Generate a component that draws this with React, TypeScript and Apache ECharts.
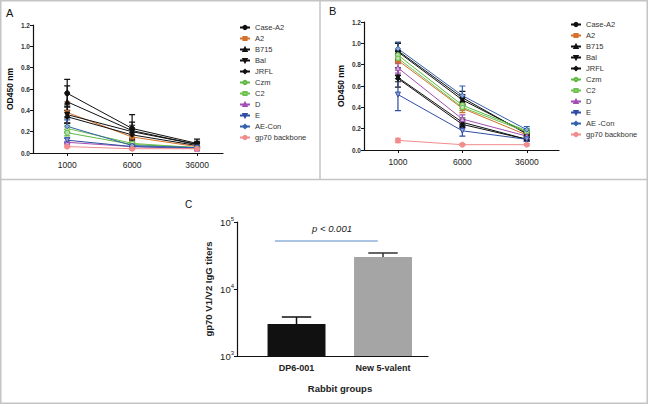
import React, { useEffect, useRef } from "react";
import * as echarts from "echarts";

// ---------- data ----------
const dilutions = ["1000", "6000", "36000"];
const namesA = ["Case-A2", "A2", "B715", "Bal", "JRFL", "Czm", "C2", "D", "E", "AE-Con", "gp70 backbone"];
const namesB = ["Case-A2", "A2", "B715", "Bal", "JRFL", "Czm", "C2", "D", "E", "AE -Con", "gp70 backbone"];

// Panel A: OD450 per series at 1000 / 6000 / 36000
const panelAValues = [
  [0.56, 0.23, 0.09], // Case-A2
  [0.38, 0.15, 0.06], // A2
  [0.48, 0.21, 0.08], // B715
  [0.36, 0.2, 0.08], // Bal
  [0.34, 0.17, 0.07], // JRFL
  [0.19, 0.08, 0.05], // Czm
  [0.23, 0.09, 0.05], // C2
  [0.1, 0.06, 0.04], // D
  [0.12, 0.06, 0.05], // E
  [0.25, 0.07, 0.05], // AE-Con
  [0.06, 0.04, 0.04], // gp70 backbone
];
const panelAErrors = [
  [0.13, 0.13, 0.04],
  [0.1, 0.04, 0.01],
  [0.15, 0.08, 0.03],
  [0.08, 0.06, 0.02],
  [0.06, 0.05, 0.02],
  [0.03, 0.01, 0.01],
  [0.03, 0.01, 0.01],
  [0.01, 0.01, 0.01],
  [0.02, 0.01, 0.01],
  [0.06, 0.01, 0.01],
  [0.01, 0.01, 0.01],
];

// Panel B
const panelBValues = [
  [0.93, 0.49, 0.15], // Case-A2
  [0.84, 0.39, 0.14], // A2
  [0.92, 0.47, 0.16], // B715
  [0.68, 0.26, 0.1], // Bal
  [0.67, 0.24, 0.1], // JRFL
  [0.89, 0.42, 0.18], // Czm
  [0.86, 0.4, 0.17], // C2
  [0.77, 0.29, 0.13], // D
  [0.52, 0.18, 0.1], // E
  [0.95, 0.51, 0.19], // AE-Con
  [0.09, 0.05, 0.05], // gp70 backbone
];
const panelBErrors = [
  [0.08, 0.06, 0.02],
  [0.03, 0.04, 0.02],
  [0.08, 0.05, 0.02],
  [0.09, 0.04, 0.02],
  [0.03, 0.03, 0.01],
  [0.03, 0.03, 0.02],
  [0.03, 0.03, 0.02],
  [0.05, 0.04, 0.02],
  [0.15, 0.05, 0.02],
  [0.06, 0.09, 0.03],
  [0.02, 0.01, 0.01],
];

// Panel C
const groups = ["DP6-001", "New 5-valent"];
const titers = [3000, 30000];
const titerErrors = [820, 4500];
const logTicks = [1000, 10000, 100000];
const sigSpan = [-0.25, 0.94];
const sigLevel = 52000;

// ---------- styles ----------
const seriesStyles = [
  { color: "#111111", fill: "#111111", symbol: "circle", rotate: 0 },
  { color: "#d5712a", fill: "#d5712a", symbol: "rect", rotate: 0 },
  { color: "#111111", fill: "#111111", symbol: "triangle", rotate: 0 },
  { color: "#111111", fill: "#111111", symbol: "triangle", rotate: 180 },
  { color: "#111111", fill: "#111111", symbol: "diamond", rotate: 0 },
  { color: "#5db844", fill: "#b5e0a8", symbol: "circle", rotate: 0 },
  { color: "#6cc04e", fill: "#c3e6b4", symbol: "rect", rotate: 0 },
  { color: "#a24fb5", fill: "#d8b3e0", symbol: "triangle", rotate: 0 },
  { color: "#2f4ea3", fill: "#8ea0d4", symbol: "triangle", rotate: 180 },
  { color: "#3461ab", fill: "#90aad6", symbol: "diamond", rotate: 0 },
  { color: "#f08c8c", fill: "#f08c8c", symbol: "circle", rotate: 0 },
];

const FONT = "Liberation Sans, Arial, sans-serif";
const AXIS_COLOR = "#111";

function buildLineSeries(names: string[], values: number[][], errors: number[][], idx: number) {
  const out: any[] = [];
  const errData: any[] = [];
  names.forEach((name, i) => {
    const st = seriesStyles[i];
    out.push({
      name,
      type: "line",
      xAxisIndex: idx,
      yAxisIndex: idx,
      data: values[i].map((v, j) => [j, v]),
      symbol: st.symbol,
      symbolRotate: st.rotate,
      symbolSize: st.symbol === "rect" ? 4 : 5,
      lineStyle: { color: st.color, width: 1 },
      itemStyle: { color: st.fill, borderColor: st.color, borderWidth: 1 },
      z: 3,
    });
    values[i].forEach((v, j) => errData.push([j, v, errors[i][j], i]));
  });
  out.push({
    name: "err" + idx,
    type: "custom",
    xAxisIndex: idx,
    yAxisIndex: idx,
    data: errData,
    z: 2,
    renderItem: (_p: any, api: any) => {
      const x = api.value(0);
      const v = api.value(1);
      const e = api.value(2);
      const c = seriesStyles[api.value(3)].color;
      const top = api.coord([x, v + e]);
      const bot = api.coord([x, Math.max(0, v - e)]);
      return {
        type: "polyline",
        shape: {
          points: [
            [top[0] - 3, top[1]],
            [top[0] + 3, top[1]],
            [top[0], top[1]],
            [bot[0], bot[1]],
            [bot[0] - 3, bot[1]],
            [bot[0] + 3, bot[1]],
          ],
        },
        style: { stroke: c, lineWidth: 1.2, fill: "none" },
      };
    },
  });
  return out;
}

function odXAxis(idx: number) {
  return {
    gridIndex: idx,
    type: "value",
    min: -0.527,
    max: 2.4,
    splitLine: { show: false },
    axisLine: { show: true, onZero: false, lineStyle: { color: AXIS_COLOR, width: 1.2 } },
    axisTick: { show: true, customValues: [0, 1, 2], length: 3, lineStyle: { color: AXIS_COLOR } },
    axisLabel: {
      customValues: [0, 1, 2],
      formatter: (v: number) => dilutions[Math.round(v)],
      fontSize: 8.5,
      color: "#222",
      fontFamily: FONT,
      margin: 7,
    },
  };
}

function odYAxis(idx: number) {
  return {
    gridIndex: idx,
    type: "value",
    min: 0,
    max: 1.2,
    interval: 0.2,
    name: "OD450 nm",
    nameLocation: "middle",
    nameGap: 19,
    nameTextStyle: { fontSize: 8.5, fontWeight: "bold", color: "#111", fontFamily: FONT },
    splitLine: { show: false },
    axisLine: { show: true, onZero: false, lineStyle: { color: AXIS_COLOR, width: 1.2 } },
    axisTick: { show: true, length: 3, lineStyle: { color: AXIS_COLOR } },
    axisLabel: {
      formatter: (v: number) => v.toFixed(1),
      fontSize: 6.5,
      fontWeight: "bold",
      color: "#333",
      fontFamily: FONT,
      margin: 3,
    },
  };
}

function legend(names: string[], left: number, top: number) {
  return {
    data: names,
    orient: "vertical",
    left,
    top,
    padding: 0,
    itemWidth: 10,
    itemHeight: 4,
    itemGap: 2,
    selectedMode: false,
    textStyle: { fontSize: 7.5, color: "#333", fontFamily: FONT, lineHeight: 9 },
  };
}

export default function App() {
  const ref = useRef<HTMLDivElement>(null);
  useEffect(() => {
    document.body.style.margin = "0";
    if (!ref.current) return;
    const chart = echarts.init(ref.current, undefined, { renderer: "svg" });
    const border = { stroke: "#c4c4c4", lineWidth: 1.5, fill: "none" };
    const option: any = {
      animation: false,
      backgroundColor: "#ffffff",
      textStyle: { fontFamily: FONT },
      grid: [
        { left: 33, top: 25, width: 190, height: 128 },
        { left: 364, top: 22, width: 195, height: 128 },
        { left: 237, top: 222, width: 191, height: 134 },
      ],
      legend: [legend(namesA, 239, 23), legend(namesB, 570, 20)],
      xAxis: [
        odXAxis(0),
        { ...odXAxis(1), max: 2.5 },
        {
          gridIndex: 2,
          type: "value",
          min: -0.688,
          max: 1.52,
          splitLine: { show: false },
          axisLine: { show: true, onZero: false, lineStyle: { color: AXIS_COLOR, width: 1.2 } },
          axisTick: { show: false },
          axisLabel: {
            customValues: [0, 1],
            formatter: (v: number) => groups[Math.round(v)],
            fontSize: 9,
            fontWeight: "bold",
            color: "#222",
            fontFamily: FONT,
            margin: 7,
          },
          name: "Rabbit groups",
          nameLocation: "middle",
          nameGap: 27,
          nameTextStyle: { fontSize: 9.5, fontWeight: "bold", color: "#222", fontFamily: FONT, padding: [0, 0, 0, 15] },
        },
      ],
      yAxis: [
        odYAxis(0),
        odYAxis(1),
        {
          gridIndex: 2,
          type: "log",
          logBase: 10,
          min: logTicks[0],
          max: logTicks[logTicks.length - 1],
          name: "gp70 V1/V2 IgG titers",
          nameLocation: "middle",
          nameGap: 24,
          nameTextStyle: { fontSize: 9.5, fontWeight: "bold", color: "#222", fontFamily: FONT },
          splitLine: { show: false },
          axisLine: { show: true, onZero: false, lineStyle: { color: AXIS_COLOR, width: 1.2 } },
          axisTick: { show: true, length: 3, lineStyle: { color: AXIS_COLOR } },
          axisLabel: {
            formatter: (v: number) => "10{s|" + Math.round(Math.log10(v)) + "}",
            fontSize: 9.5,
            color: "#222",
            fontFamily: FONT,
            margin: 3,
            rich: { s: { fontSize: 6, verticalAlign: "top", padding: [0, 0, 7, 0], color: "#222" } },
          },
        },
      ],
      series: [
        ...buildLineSeries(namesA, panelAValues, panelAErrors, 0),
        ...buildLineSeries(namesB, panelBValues, panelBErrors, 1),
        {
          name: "titers",
          type: "custom",
          xAxisIndex: 2,
          yAxisIndex: 2,
          data: titers.map((v, i) => [i, v, titerErrors[i]]),
          renderItem: (_p: any, api: any) => {
            const x = api.value(0);
            const v = api.value(1);
            const e = api.value(2);
            const i = Math.round(x);
            const colors = ["#111111", "#a5a5a5"];
            const errColors = ["#111111", "#333333"];
            const tl = api.coord([x - 0.335, v]);
            const br = api.coord([x + 0.335, logTicks[0]]);
            const cl = api.coord([x - 0.17, v + e]);
            const cr = api.coord([x + 0.17, v + e]);
            const mid = (cl[0] + cr[0]) / 2;
            return {
              type: "group",
              children: [
                {
                  type: "polyline",
                  shape: {
                    points: [
                      [cl[0], cl[1]],
                      [cr[0], cr[1]],
                      [mid, cr[1]],
                      [mid, tl[1]],
                    ],
                  },
                  style: { stroke: errColors[i], lineWidth: 1.5, fill: "none" },
                },
                {
                  type: "rect",
                  shape: { x: tl[0], y: tl[1], width: br[0] - tl[0], height: br[1] - tl[1] },
                  style: { fill: colors[i] },
                },
              ],
            };
          },
        },
        {
          name: "significance",
          type: "line",
          xAxisIndex: 2,
          yAxisIndex: 2,
          data: sigSpan.map((x) => [x, sigLevel]),
          symbol: "none",
          lineStyle: { color: "#8fb1da", width: 1.5 },
        },
      ],
      graphic: [
        { type: "rect", shape: { x: 0.75, y: 0.75, width: 646.5, height: 402.5 }, style: border, silent: true },
        { type: "line", shape: { x1: 320, y1: 0, x2: 320, y2: 179.5 }, style: border, silent: true },
        { type: "line", shape: { x1: 0, y1: 179.5, x2: 648, y2: 179.5 }, style: border, silent: true },
        { type: "text", x: 6, y: 7, style: { text: "A", fontSize: 11, fill: "#111", fontFamily: FONT } },
        { type: "text", x: 329, y: 5, style: { text: "B", fontSize: 11, fill: "#111", fontFamily: FONT } },
        { type: "text", x: 185, y: 199, style: { text: "C", fontSize: 10, fill: "#111", fontFamily: FONT } },
        {
          type: "text",
          x: 332,
          y: 228,
          style: {
            text: "p < 0.001",
            fontSize: 9.5,
            fontStyle: "italic",
            fill: "#222",
            fontFamily: FONT,
            align: "center",
            verticalAlign: "middle",
          },
        },
      ],
    };
    chart.setOption(option);
    return () => chart.dispose();
  }, []);
  return <div ref={ref} style={{ width: 648, height: 405 }} />;
}
